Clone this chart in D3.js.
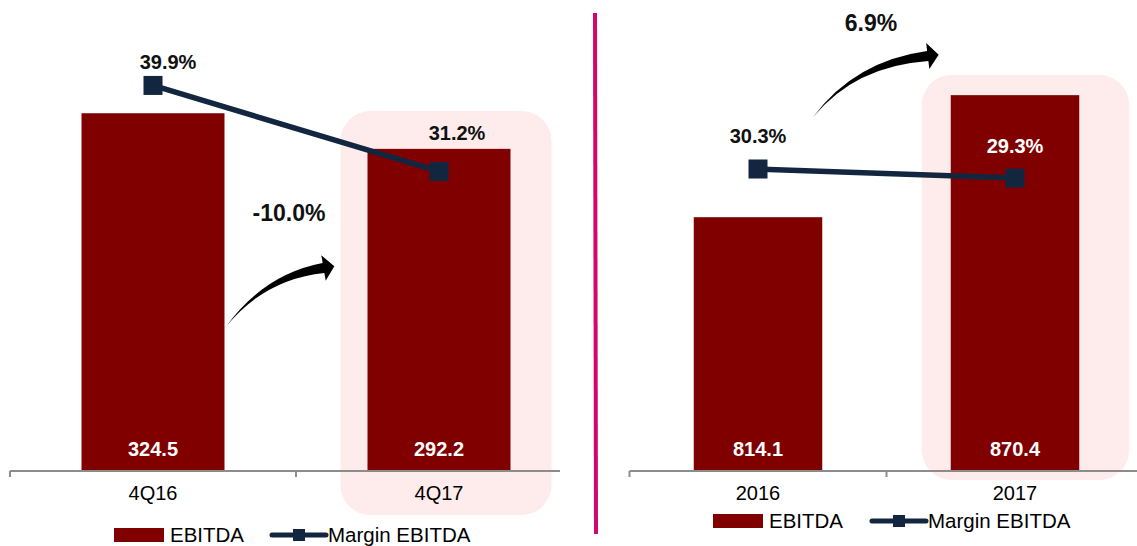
<!DOCTYPE html>
<html>
<head>
<meta charset="utf-8">
<script src="https://cdn.jsdelivr.net/npm/d3@7"></script>
<style>
  html, body { margin: 0; padding: 0; background: #fff; }
  svg { display: block; font-family: "Liberation Sans", Arial, sans-serif; }
</style>
</head>
<body>
<div id="chart"></div>
<script>
// quarter panel
const quarterCats = ["4Q16", "4Q17"];
const quarterEbitda = [324.5, 292.2];
const quarterMargin = [39.9, 31.2];
const quarterGrowth = "-10.0%";

// year panel
const yearCats = ["2016", "2017"];
const yearEbitda = [814.1, 870.4];
const yearMargin = [30.3, 29.3];
const yearGrowth = "6.9%";

const legendNames = ["EBITDA", "Margin EBITDA"];

const width = 1137, height = 546;
const barColor = "#800000";
const lineColor = "#12263f";
const hlColor = "#feecec";

const svg = d3.select("#chart").append("svg")
    .attr("width", width)
    .attr("height", height);

// layout of each panel (positions only, no data)
const panels = [
  {
    cats: quarterCats, ebitda: quarterEbitda, margin: quarterMargin, growth: quarterGrowth,
    xRange: [10, 582], axisEnd: 560, baseY: 471,
    yDomain: [0, 400], yTop: 30,
    y2Range: [480, 35],
    labelOff: [[15, -23], [18, -38]],
    labelFill: ["#111", "#111"],
    hl: {left: 27, right: 41, top: 111, bottom: 515},
    arrow: {dx0: 2, y0: 326, dx1: -44, y1: 268, cx: 265, cy: 278},
    growthPos: [289, 213],
    legend: {x: 114, y: 535, lineX: 272}
  },
  {
    cats: yearCats, ebitda: yearEbitda, margin: yearMargin, growth: yearGrowth,
    xRange: [629.5, 1143.5], axisEnd: 1137, baseY: 471,
    yDomain: [697, 900], yTop: 31,
    y2Range: [441.7, 36.7],
    labelOff: [[0, -33], [0, -32]],
    labelFill: ["#111", "#fff"],
    hl: {left: 29, right: 50, top: 75, bottom: 480},
    arrow: {dx0: -9, y0: 117, dx1: -23, y1: 56, cx: 855, cy: 65},
    growthPos: [871, 23],
    legend: {x: 713, y: 521, lineX: 872}
  }
];

function drawArrow(g, x0, y0, x1, y1, cx, cy) {
  let dx = x1 - cx, dy = y1 - cy;
  const len = Math.hypot(dx, dy);
  dx /= len; dy /= len;
  const nx = -dy, ny = dx; // normal
  const p = d3.path();
  p.moveTo(x0, y0);
  p.quadraticCurveTo(cx - nx * 4, cy - ny * 4, x1 - nx * 5, y1 - ny * 5);
  p.lineTo(x1 - nx * 13, y1 - ny * 13);
  p.lineTo(x1 + dx * 11, y1 + dy * 11);
  p.lineTo(x1 + nx * 13, y1 + ny * 13);
  p.lineTo(x1 + nx * 5, y1 + ny * 5);
  p.quadraticCurveTo(cx + nx * 1, cy + ny * 1, x0, y0);
  p.closePath();
  g.append("path").attr("d", p.toString()).attr("fill", "#000");
}

panels.forEach(P => {
  const x = d3.scaleBand()
      .domain(P.cats)
      .range(P.xRange)
      .paddingInner(0.5)
      .paddingOuter(0.25);
  const y = d3.scaleLinear().domain(P.yDomain).range([P.baseY, P.yTop]);
  const y2 = d3.scaleLinear().domain([0, 45]).range(P.y2Range);
  const bw = x.bandwidth();
  const g = svg.append("g");

  // highlight behind last category
  const last = P.cats[P.cats.length - 1];
  g.append("rect")
      .attr("x", x(last) - P.hl.left)
      .attr("y", P.hl.top)
      .attr("width", bw + P.hl.left + P.hl.right)
      .attr("height", P.hl.bottom - P.hl.top)
      .attr("rx", 30)
      .attr("fill", hlColor);

  // bars
  g.append("g")
    .selectAll("rect")
    .data(P.cats)
    .join("rect")
    .attr("x", d => x(d))
    .attr("y", (d, i) => y(P.ebitda[i]))
    .attr("width", bw)
    .attr("height", (d, i) => P.baseY - y(P.ebitda[i]))
    .attr("fill", barColor);

  // bar values
  g.append("g")
    .selectAll("text")
    .data(P.cats)
    .join("text")
    .attr("x", d => x(d) + bw / 2)
    .attr("y", 449)
    .attr("dy", "0.35em")
    .attr("text-anchor", "middle")
    .attr("fill", "#fff")
    .attr("font-weight", "bold")
    .attr("font-size", 20)
    .text((d, i) => P.ebitda[i].toFixed(1));

  // axis
  const step = x.step();
  const ax = g.append("g").attr("stroke", "#8c8c8c").attr("stroke-width", 2).attr("fill", "none");
  ax.append("line")
    .attr("x1", P.xRange[0]).attr("x2", P.axisEnd)
    .attr("y1", P.baseY).attr("y2", P.baseY);
  d3.range(P.cats.length + 1)
    .map(i => P.xRange[0] + i * step)
    .filter(t => t <= P.axisEnd)
    .forEach(t => {
      ax.append("line").attr("x1", t).attr("x2", t)
        .attr("y1", P.baseY).attr("y2", P.baseY + 6);
    });

  g.append("g")
    .selectAll("text")
    .data(P.cats)
    .join("text")
    .attr("x", d => x(d) + bw / 2)
    .attr("y", P.baseY + 22)
    .attr("dy", "0.35em")
    .attr("text-anchor", "middle")
    .attr("font-size", 20)
    .attr("fill", "#000")
    .text(d => d);

  // margin line
  const line = d3.line()
      .x(d => x(d) + bw / 2)
      .y((d, i) => y2(P.margin[i]));
  g.append("path")
    .datum(P.cats)
    .attr("d", line)
    .attr("fill", "none")
    .attr("stroke", lineColor)
    .attr("stroke-width", 5.5);

  g.append("g")
    .selectAll("rect")
    .data(P.cats)
    .join("rect")
    .attr("x", d => x(d) + bw / 2 - 9.5)
    .attr("y", (d, i) => y2(P.margin[i]) - 9.5)
    .attr("width", 19)
    .attr("height", 19)
    .attr("fill", lineColor);

  g.append("g")
    .selectAll("text")
    .data(P.cats)
    .join("text")
    .attr("x", (d, i) => x(d) + bw / 2 + P.labelOff[i][0])
    .attr("y", (d, i) => y2(P.margin[i]) + P.labelOff[i][1])
    .attr("dy", "0.35em")
    .attr("text-anchor", "middle")
    .attr("font-weight", "bold")
    .attr("font-size", 20)
    .attr("fill", (d, i) => P.labelFill[i])
    .text((d, i) => P.margin[i].toFixed(1) + "%");

  // growth arrow + label
  const a = P.arrow;
  drawArrow(g, x(P.cats[0]) + bw + a.dx0, a.y0, x(last) + a.dx1, a.y1, a.cx, a.cy);
  g.append("text")
    .attr("x", P.growthPos[0])
    .attr("y", P.growthPos[1])
    .attr("dy", "0.35em")
    .attr("text-anchor", "middle")
    .attr("font-weight", "bold")
    .attr("font-size", 23)
    .attr("fill", "#111")
    .text(P.growth);

  // legend
  const L = P.legend;
  const lg = g.append("g");
  lg.append("rect")
    .attr("x", L.x).attr("y", L.y - 7)
    .attr("width", 50).attr("height", 14)
    .attr("fill", barColor);
  lg.append("text")
    .attr("x", L.x + 56).attr("y", L.y)
    .attr("dy", "0.35em")
    .attr("font-size", 20.5)
    .text(legendNames[0]);
  lg.append("line")
    .attr("x1", L.lineX).attr("x2", L.lineX + 54)
    .attr("y1", L.y).attr("y2", L.y)
    .attr("stroke", lineColor)
    .attr("stroke-width", 5)
    .attr("stroke-linecap", "round");
  lg.append("rect")
    .attr("x", L.lineX + 21).attr("y", L.y - 6)
    .attr("width", 12).attr("height", 12)
    .attr("fill", lineColor);
  lg.append("text")
    .attr("x", L.lineX + 56).attr("y", L.y)
    .attr("dy", "0.35em")
    .attr("font-size", 20.5)
    .text(legendNames[1]);
});

// divider
svg.append("line")
    .attr("x1", 595).attr("x2", 596)
    .attr("y1", 13).attr("y2", 534)
    .attr("stroke", "#d4066b")
    .attr("stroke-width", 4);
</script>
</body>
</html>
